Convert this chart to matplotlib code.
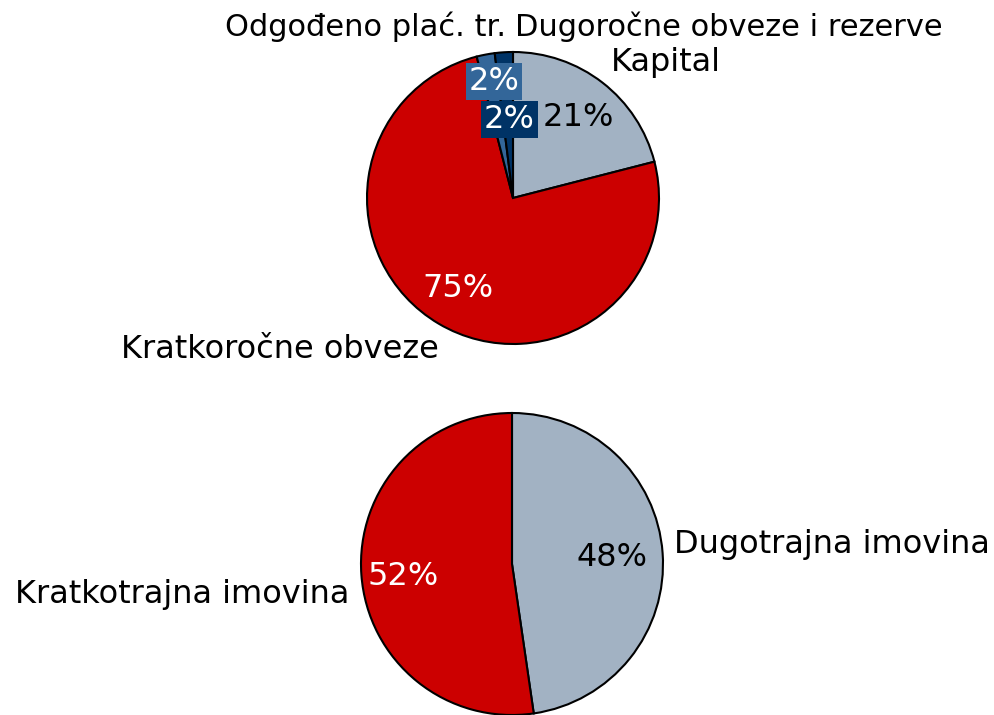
import matplotlib
matplotlib.use("Agg")
import matplotlib.pyplot as plt

plt.rcParams['font.family'] = ['DejaVu Sans']

# podaci - pasiva (gore) i aktiva (dolje)
pasiva_labels = ['Kapital', 'Kratkoročne obveze', 'Odgođeno plać. tr.', 'Dugoročne obveze i rezerve']
pasiva_values = [21, 75, 2, 2]
pasiva_colors = ['#A2B2C3', '#CC0000', '#336699', '#003366']

aktiva_labels = ['Dugotrajna imovina', 'Kratkotrajna imovina']
aktiva_values = [47.7, 52.3]
aktiva_colors = ['#A2B2C3', '#CC0000']

FS = 23
W, H = 994, 715


def pie_axes(cx, cy, r, k=1.02):
    # cx, cy in pixels from top-left, r in pixels
    side = 2 * r * k
    return fig.add_axes([(cx - side / 2) / W, (H - cy - side / 2) / H, side / W, side / H])


fig = plt.figure(figsize=(W / 100, H / 100), dpi=100)

# gornji graf
ax1 = pie_axes(513, 198, 146)
wedges, texts, pcts = ax1.pie(pasiva_values, labels=pasiva_labels, colors=pasiva_colors,
                              startangle=90, counterclock=False, autopct='%1.0f%%',
                              wedgeprops=dict(edgecolor='black', linewidth=1.5),
                              textprops=dict(fontsize=FS))
label_pos = [(0.67, 0.925, 'left'), (-0.51, -1.04, 'right'),
             (-0.045, 1.17, 'right'), (0.014, 1.17, 'left')]
for i, (t, (x, y, ha)) in enumerate(zip(texts, label_pos)):
    t.set_position((x, y))
    t.set_ha(ha)
    t.set_va('center')
    if i >= 2:
        t.set_fontsize(22)
pct_pos = [(0.45, 0.55), (-0.38, -0.62), (-0.13, 0.80), (-0.024, 0.54)]
pct_col = ['black', 'white', 'white', 'white']
for i, (t, p) in enumerate(zip(pcts, pct_pos)):
    t.set_position(p)
    t.set_color(pct_col[i])
    if i >= 2:
        t.set_bbox(dict(facecolor=pasiva_colors[i], edgecolor='none', pad=2))
ax1.set_xlim(-1.02, 1.02)
ax1.set_ylim(-1.02, 1.02)
ax1.set_aspect('equal')

# donji graf
ax2 = pie_axes(512, 564, 151)
wedges2, texts2, pcts2 = ax2.pie(aktiva_values, labels=aktiva_labels, colors=aktiva_colors,
                                 startangle=90, counterclock=False, autopct='%1.0f%%',
                                 wedgeprops=dict(edgecolor='black', linewidth=1.5),
                                 textprops=dict(fontsize=FS))
label_pos2 = [(1.07, 0.126, 'left'), (-1.08, -0.2, 'right')]
for t, (x, y, ha) in zip(texts2, label_pos2):
    t.set_position((x, y))
    t.set_ha(ha)
    t.set_va('center')
pct_pos2 = [(0.66, 0.04), (-0.72, -0.086)]
for t, p, c in zip(pcts2, pct_pos2, ['black', 'white']):
    t.set_position(p)
    t.set_color(c)
ax2.set_xlim(-1.02, 1.02)
ax2.set_ylim(-1.02, 1.02)
ax2.set_aspect('equal')

fig.savefig('out.png', dpi=100)
